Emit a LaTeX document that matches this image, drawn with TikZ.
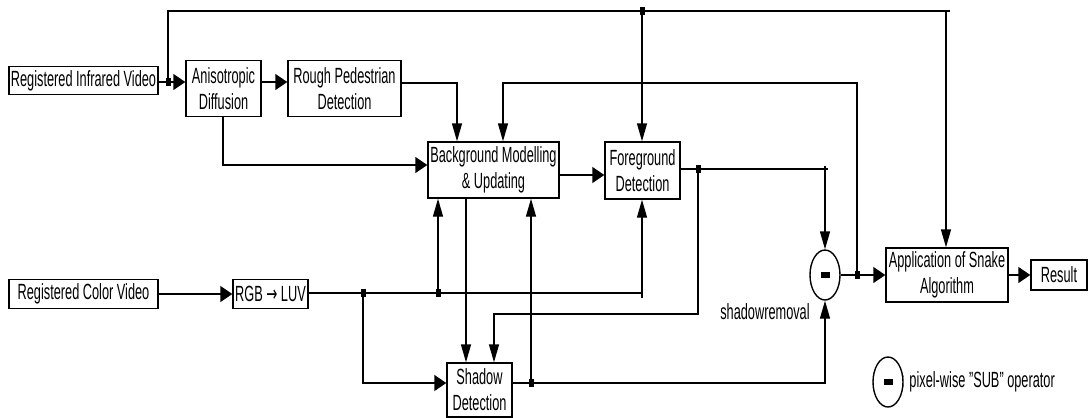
\documentclass[tikz,border=0pt]{standalone}
\usepackage{fontspec}
\setmainfont{Liberation Sans}[FakeStretch=0.58]
\newfontfamily\arrowfont{DejaVu Sans}[FakeStretch=0.6]
\usetikzlibrary{arrows.meta,shapes.geometric}
\begin{document}
\begin{tikzpicture}[x=1pt,y=-1pt,
  box/.style={draw,line width=1.4pt,inner sep=0pt,align=center,font=\fontsize{22}{26}\selectfont},
  lbl/.style={inner sep=0pt,font=\fontsize{22}{26}\selectfont},
  ln/.style={line width=1.4pt},
  ha/.style={ln,-{Triangle[length=12pt,width=16pt]}},
  va/.style={ln,-{Triangle[length=18pt,width=10pt]}},
  jdot/.style={fill=black,inner sep=0pt,minimum width=5pt,minimum height=8pt},
  subop/.style={draw,ellipse,line width=1.4pt,minimum width=30pt,minimum height=50pt,inner sep=0pt},
  minusbar/.style={fill=black,inner sep=0pt,minimum width=9pt,minimum height=6pt}]
\useasboundingbox (0,0) rectangle (1088,418);

% boxes
\node[box,minimum width=149pt,minimum height=28pt] (inf) at (83.5,80.5) {Registered Infrared Video};
\node[box,minimum width=75pt,minimum height=56pt] (ani) at (223.5,88.5) {Anisotropic\\Diffusion};
\node[box,minimum width=113pt,minimum height=56pt] (rough) at (344.5,88.5) {Rough Pedestrian\\Detection};
\node[box,minimum width=131pt,minimum height=56pt] (bg) at (493.5,170) {Background Modelling\\\& Updating};
\node[box,minimum width=75pt,minimum height=57pt] (fg) at (642.5,170.5) {Foreground\\Detection};
\node[box,minimum width=149pt,minimum height=29pt] (col) at (83.5,294) {Registered Color Video};
\node[box,minimum width=75pt,minimum height=29pt] (rgb) at (270.5,294) {RGB {\arrowfont →} LUV};
\node[box,minimum width=65pt,minimum height=54pt] (sh) at (479.5,390) {Shadow\\Detection};
\node[subop] (sub) at (825,275) {};
\node[minusbar] (subbar) at (sub) {};
\node[box,minimum width=122pt,minimum height=54pt] (snake) at (947,275) {Application of Snake\\Algorithm};
\node[box,minimum width=56pt,minimum height=30pt] (res) at (1059,275) {Result};

% labels and legend
\node[lbl] (srl) at (765,312) {shadowremoval};
\node[subop] (leg) at (888,382) {};
\node[minusbar] (legbar) at (leg) {};
\node[lbl,anchor=west] (legt) at (901,382) {: pixel-wise "SUB" operator};

% junctions
\node[jdot] (j1) at (168,82) {};
\node[jdot] (j2) at (642,11) {};
\node[jdot] (j3) at (857,275) {};
\node[jdot] (j4) at (698,169) {};
\node[jdot] (j5) at (438,293) {};
\node[jdot] (j6) at (363,293) {};
\node[jdot] (j7) at (531,383) {};

% routing points
\coordinate (t1) at (168,11);
\coordinate (t2) at (946,11);
\coordinate (r1) at (457,83);
\coordinate (a1) at (223,165);
\coordinate (b1) at (560,175);
\coordinate (l1) at (857,83);
\coordinate (l2) at (503,83);
\coordinate (f1) at (825,169);
\coordinate (s1) at (494,314);
\coordinate (c1) at (642,293);
\coordinate (c2) at (363,383);
\coordinate (d1) at (466,250);
\coordinate (e1) at (825,383);

% infrared path
\draw[ha] (inf.east |- j1) -- (ani.west |- j1);
\draw[ln] (j1.center) -- (t1) -- ([xshift=4pt]t2);
\draw[va] (t2) -- (t2 |- snake.north);
\draw[va] (j2.center) -- (j2 |- fg.north);
\draw[ha] (ani.east |- j1) -- (rough.west |- j1);
\draw[va] (rough.east |- r1) -- (r1) -- (r1 |- bg.north);
\draw[ha] (a1 |- ani.south) -- (a1) -- (a1 -| bg.west);
\draw[ha] (bg.east |- b1) -- (fg.west |- b1);

% feedback loop from result of subtraction
\draw[va] (j3.center) -- (l1) -- (l2) -- (l2 |- bg.north);

% foreground output
\draw[ln] (fg.east |- j4) -- ([xshift=3pt]f1);
\draw[va] ([yshift=3pt]f1) -- (sub.north);
\draw[va] (j4.center) |- (s1) -- (s1 |- sh.north);

% color path
\draw[ha] (col) -- (rgb);
\draw[ln] (rgb.east |- c1) -- (c1);
\draw[va] ([yshift=-5pt]c1) -- (c1 |- fg.south);
\draw[va] (j5.center) -- (j5 |- bg.south);
\draw[ha] (j6.center) -- (c2) -- (c2 -| sh.west);
\draw[va] (d1 |- bg.south) -- (d1 |- sh.north);

% shadow output
\draw[va] (sh.east |- j7) -- (e1) -- (sub.south);
\draw[va] (j7.center) -- (j7 |- bg.south);

% to snake and result
\draw[ha] (sub) -- (snake);
\draw[ha] (snake) -- (res);
\end{tikzpicture}
\end{document}
